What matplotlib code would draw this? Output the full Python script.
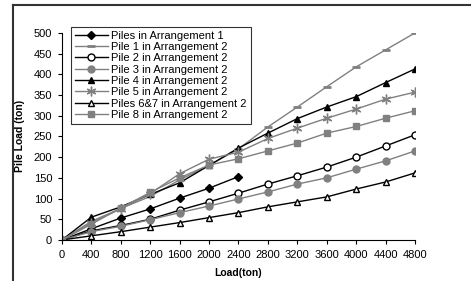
import matplotlib
matplotlib.use("Agg")
import matplotlib.pyplot as plt
from matplotlib.lines import Line2D

plt.rcParams["font.family"] = ["Liberation Sans", "DejaVu Sans"]

# applied load (ton)
load = [0, 400, 800, 1200, 1600, 2000, 2400, 2800, 3200, 3600, 4000, 4400, 4800]
load_arr1 = load[:7]

# pile loads (ton)
arr1 = [0, 27, 53, 75, 101, 125, 153]
pile1 = [0, 45, 76, 105, 145, 180, 220, 273, 321, 370, 418, 459, 500]
pile2 = [0, 22, 35, 50, 72, 92, 113, 135, 155, 176, 200, 227, 254]
pile3 = [0, 20, 33, 49, 66, 82, 99, 116, 135, 150, 171, 191, 215]
pile4 = [0, 55, 80, 110, 138, 180, 222, 258, 293, 321, 346, 380, 413]
pile5 = [0, 42, 75, 112, 160, 195, 212, 245, 270, 294, 316, 340, 357]
pile67 = [0, 10, 20, 31, 42, 54, 66, 80, 92, 104, 123, 140, 162]
pile8 = [0, 38, 77, 115, 150, 181, 196, 215, 234, 258, 274, 294, 312]

xticks = list(range(0, 4801, 400))
yticks = list(range(0, 501, 50))

gray = "#808080"

fig = plt.figure(figsize=(4.76, 2.81), dpi=100)
ax = fig.add_axes([0.130, 0.146, 0.742, 0.737])

ax.plot(load_arr1, arr1, color="black", lw=1, marker="D", ms=4,
        label="Piles in Arrangement 1")
ax.plot(load, pile1, color=gray, lw=1, marker="_", ms=6, mew=2,
        label="Pile 1 in Arrangement 2")
ax.plot(load, pile2, color="black", lw=1, marker="o", ms=5, mfc="white",
        label="Pile 2 in Arrangement 2")
ax.plot(load, pile3, color=gray, lw=1, marker="o", ms=5,
        label="Pile 3 in Arrangement 2")
ax.plot(load, pile4, color="black", lw=1, marker="^", ms=5,
        label="Pile 4 in Arrangement 2")
ax.plot(load, pile5, color=gray, lw=1, marker=(6, 2, 0), ms=7, mew=1,
        label="Pile 5 in Arrangement 2")
ax.plot(load, pile67, color="black", lw=1, marker="^", ms=5, mfc="white",
        label="Piles 6&7 in Arrangement 2")
ax.plot(load, pile8, color=gray, lw=1, marker="s", ms=5,
        label="Pile 8 in Arrangement 2")

ax.set_xlim(0, 4800)
ax.set_ylim(0, 500)
ax.set_xticks(xticks)
ax.set_yticks(yticks)
ax.tick_params(labelsize=8, length=3, width=0.8, pad=4)
for side in ["top", "right"]:
    ax.spines[side].set_visible(False)

ax.set_xlabel("Load(ton)", fontsize=7.5, fontweight="bold", labelpad=6)
ax.set_ylabel("Pile Load (ton)", fontsize=7.5, fontweight="bold", labelpad=6)

leg = ax.legend(loc="upper left", bbox_to_anchor=(0.025, 1.03), fontsize=8,
                frameon=True, fancybox=False, handlelength=3.0,
                labelspacing=0.12, borderpad=0.35, handletextpad=0.3,
                borderaxespad=0)
leg.get_frame().set_edgecolor("black")
leg.get_frame().set_linewidth(0.8)

# outer frame (top and left edges)
fig.add_artist(Line2D([0.027, 0.988], [0.982, 0.982], color="#333333", lw=1.5,
                      transform=fig.transFigure))
fig.add_artist(Line2D([0.027, 0.027], [0.0, 0.982], color="#333333", lw=1.5,
                      transform=fig.transFigure))

fig.savefig("out.png", dpi=100)
plt.close()
